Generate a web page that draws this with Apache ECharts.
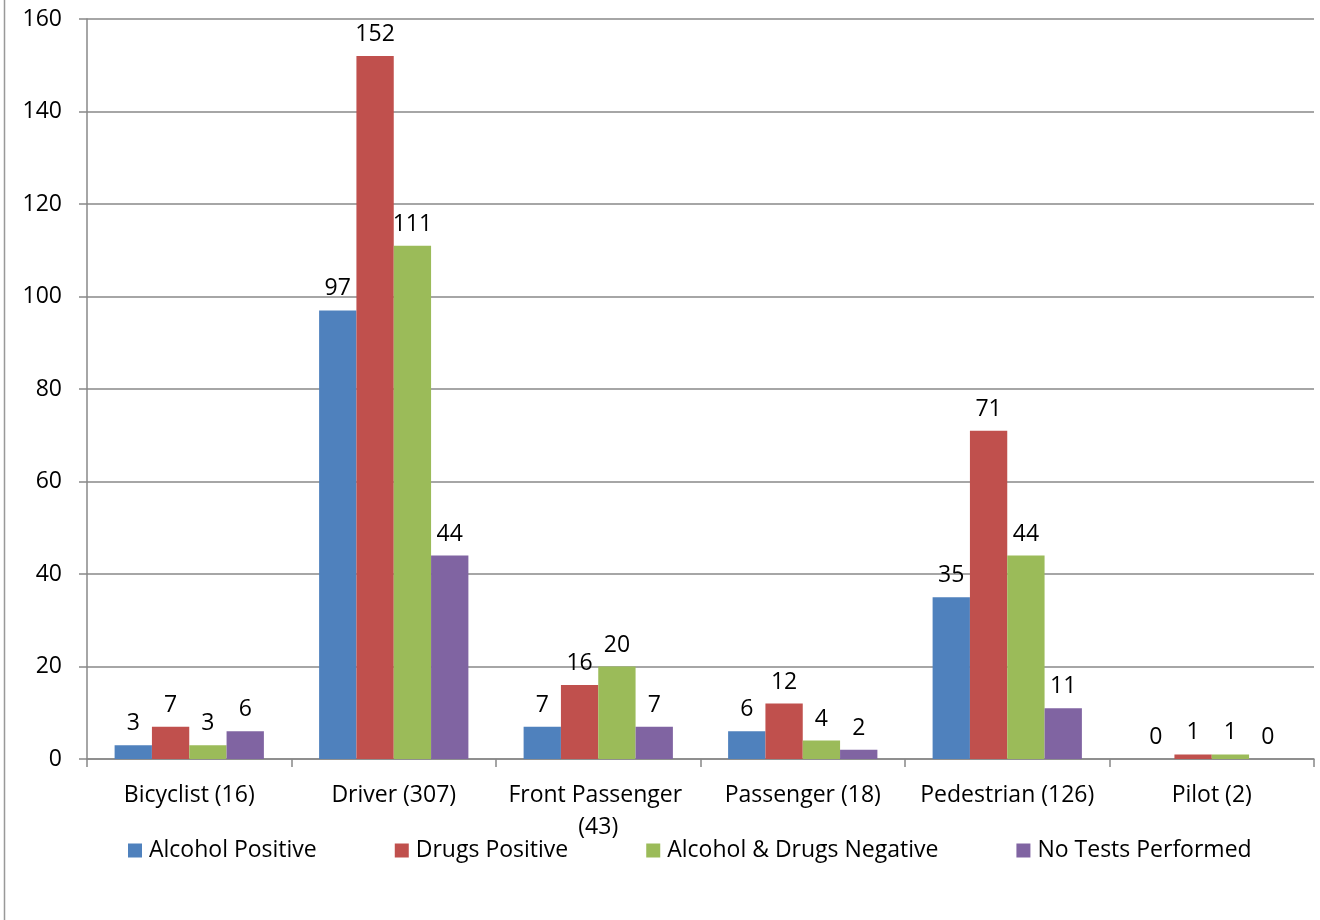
<!DOCTYPE html>
<html>
<head>
<meta charset="utf-8">
<script src="https://cdn.jsdelivr.net/npm/echarts@6/dist/echarts.min.js"></script>
<style>html,body{margin:0;padding:0;background:#fff;}#c{width:1320px;height:920px;}</style>
</head>
<body>
<div id="c"></div>
<script>
const categories = ['Bicyclist (16)', 'Driver (307)', 'Front Passenger (43)', 'Passenger (18)', 'Pedestrian (126)', 'Pilot (2)'];
const alcoholPositive = [3, 97, 7, 6, 35, 0];
const drugsPositive = [7, 152, 16, 12, 71, 1];
const bothNegative = [3, 111, 20, 4, 44, 1];
const noTests = [6, 44, 7, 2, 11, 0];
const seriesNames = ['Alcohol Positive', 'Drugs Positive', 'Alcohol & Drugs Negative', 'No Tests Performed'];
const colors = ['#4F81BD', '#C0504D', '#9BBB59', '#8064A2'];

const font = 'Open Sans';
const fs = 23;
const chart = echarts.init(document.getElementById('c'));
const mk = (name, data, color) => ({
  name, type: 'bar', data, barGap: '0%', barCategoryGap: '27%',
  itemStyle: { color },
  label: { show: true, position: 'top', distance: 10, color: '#000', fontSize: fs, fontFamily: font }
});
chart.setOption({
  animation: false,
  color: colors,
  grid: { left: 87, right: 6, top: 19, bottom: 161, containLabel: false },
  graphic: [{ type: 'line', shape: { x1: 4.5, y1: 0, x2: 4.5, y2: 920 }, style: { stroke: '#999', lineWidth: 1.5 } }],
  legend: {
    left: 128, top: 839, padding: 0, itemWidth: 14, itemHeight: 14, itemGap: 78,
    icon: 'rect',
    textStyle: { fontSize: fs, fontFamily: font, color: '#000', padding: [0, 0, 0, 2] },
    data: seriesNames
  },
  xAxis: {
    type: 'category', data: categories,
    axisLine: { lineStyle: { color: '#888', width: 1.5 } },
    axisTick: { show: true, length: 8, lineStyle: { color: '#888', width: 1.5 } },
    axisLabel: { color: '#000', fontSize: fs, fontFamily: font, margin: 20, width: 190, overflow: 'break', lineHeight: 32, interval: 0 }
  },
  yAxis: {
    type: 'value', min: 0, max: 160, interval: 20,
    axisLine: { show: true, lineStyle: { color: '#888', width: 1.5 } },
    axisTick: { show: true, length: 8, lineStyle: { color: '#888', width: 1.5 } },
    splitLine: { lineStyle: { color: '#888', width: 1.5 } },
    axisLabel: { color: '#000', fontSize: fs, fontFamily: font, margin: 25 }
  },
  series: [
    mk(seriesNames[0], alcoholPositive, colors[0]),
    mk(seriesNames[1], drugsPositive, colors[1]),
    mk(seriesNames[2], bothNegative, colors[2]),
    mk(seriesNames[3], noTests, colors[3])
  ]
});
</script>
</body>
</html>
